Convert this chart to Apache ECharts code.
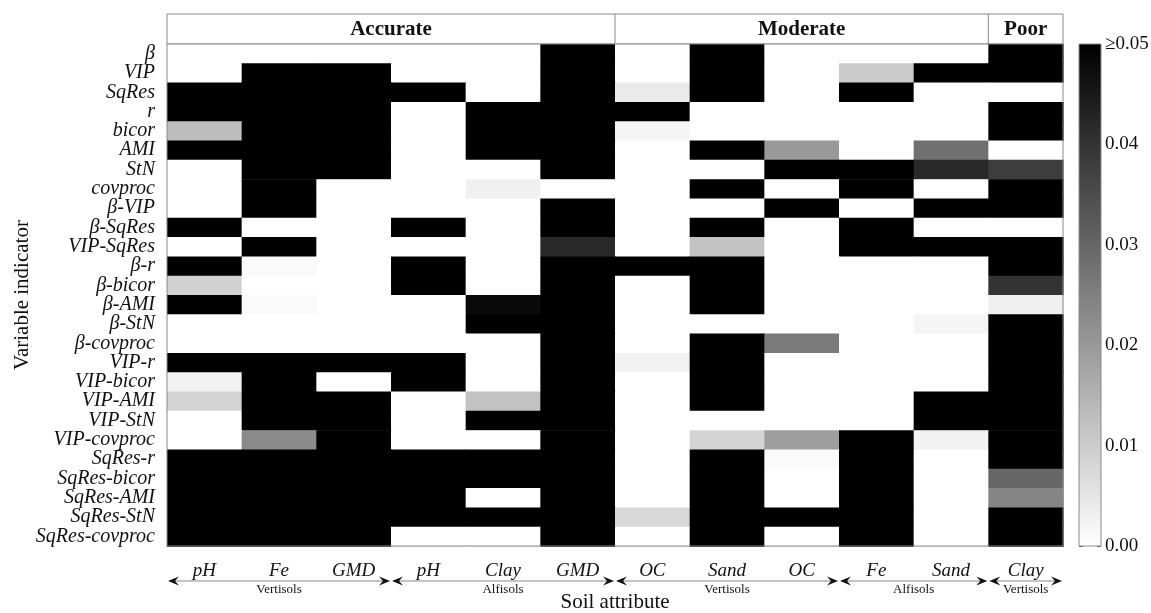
<!DOCTYPE html>
<html><head><meta charset="utf-8">
<script src="https://cdn.jsdelivr.net/npm/echarts@6/dist/echarts.min.js"></script>
<style>html,body{margin:0;padding:0;background:#fff}#c{width:1151px;height:613px}</style>
</head><body><div id="c"></div>
<script>
// ---- data ----
const soilAttributes = ['pH','Fe','GMD','pH','Clay','GMD','OC','Sand','OC','Fe','Sand','Clay'];
const soilOrders = ['Vertisols','Alfisols','Vertisols','Alfisols','Vertisols'];
const soilOrderSpans = [3,3,3,2,1];
const accuracyClasses = ['Accurate','Moderate','Poor'];
const accuracySpans = [6,5,1];
const indicators = ['β','VIP','SqRes','r','bicor','AMI','StN','covproc','β-VIP','β-SqRes','VIP-SqRes',
  'β-r','β-bicor','β-AMI','β-StN','β-covproc','VIP-r','VIP-bicor','VIP-AMI','VIP-StN','VIP-covproc',
  'SqRes-r','SqRes-bicor','SqRes-AMI','SqRes-StN','SqRes-covproc'];
const K = 0.05; // value shown as ≥0.05
const pValues = [
  [0, 0, 0, 0, 0, K, 0, K, 0, 0, 0, K],
  [0, K, K, 0, 0, K, 0, K, 0, 0.010, K, K],
  [K, K, K, K, 0, K, 0.004, K, 0, K, 0, 0],
  [K, K, K, 0, K, K, K, 0, 0, 0, 0, K],
  [0.013, K, K, 0, K, K, 0.002, 0, 0, 0, 0, K],
  [K, K, K, 0, K, K, 0, K, 0.020, 0, 0.028, 0],
  [0, K, K, 0, 0, K, 0, 0, K, K, 0.042, 0.038],
  [0, K, 0, 0, 0.003, 0, 0, K, 0, K, 0, K],
  [0, K, 0, 0, 0, K, 0, 0, K, 0, K, K],
  [K, 0, 0, K, 0, K, 0, K, 0, K, 0, 0],
  [0, K, 0, 0, 0, 0.042, 0, 0.012, 0, K, K, K],
  [K, 0.001, 0, K, 0, K, K, K, 0, 0, 0, K],
  [0.009, 0, 0, K, 0, K, 0, K, 0, 0, 0, 0.040],
  [K, 0.001, 0, 0, 0.048, K, 0, K, 0, 0, 0, 0.003],
  [0, 0, 0, 0, K, K, 0, 0, 0, 0, 0.002, K],
  [0, 0, 0, 0, 0, K, 0, K, 0.026, 0, 0, K],
  [K, K, K, K, 0, K, 0.0025, K, 0, 0, 0, K],
  [0.0025, K, 0, K, 0, K, 0, K, 0, 0, 0, K],
  [0.0085, K, K, 0, 0.012, K, 0, K, 0, 0, K, K],
  [0, K, K, 0, K, K, 0, 0, 0, 0, K, K],
  [0, 0.023, K, 0, 0, K, 0, 0.0085, 0.019, K, 0.0025, K],
  [K, K, K, K, K, K, 0, K, 0.001, K, 0, K],
  [K, K, K, K, K, K, 0, K, 0, K, 0, 0.030],
  [K, K, K, K, 0, K, 0, K, 0, K, 0, 0.024],
  [K, K, K, K, K, K, 0.0075, K, K, K, 0, K],
  [K, K, K, 0, 0, K, 0, K, 0, K, 0, K]
];
const colorbarMin = 0, colorbarMax = 0.05, colorbarStep = 0.01;

// ---- chart ----
const FONT = '"Liberation Serif","Times New Roman",serif';
const GRAY = '#8a8a8a';
const chart = echarts.init(document.getElementById('c'), null, {renderer: 'canvas'});
const heatData = [];
pValues.forEach((row, r) => row.forEach((v, c) => heatData.push([c, r, v])));

chart.setOption({
  animation: false,
  backgroundColor: '#fff',
  grid: [
    {left: 167, right: 88, top: 44, bottom: 67, show: true, borderColor: GRAY, borderWidth: 1, z: 10,
      outerBoundsMode: 'none', containLabel: false},
    {left: 1079, width: 22, top: 44, bottom: 67, show: true, borderColor: GRAY, borderWidth: 1, z: 10,
      outerBoundsMode: 'none', containLabel: false}
  ],
  visualMap: {type: 'continuous', show: false, min: colorbarMin, max: colorbarMax, seriesIndex: 0, dimension: 2,
    inRange: {color: ['#ffffff', '#000000']}},
  xAxis: [
    {type: 'category', gridIndex: 0, data: soilAttributes,
      name: 'Soil attribute', nameLocation: 'middle', nameGap: 46, nameMoveOverlap: false,
      nameTextStyle: {fontFamily: FONT, fontSize: 21, color: '#111'},
      axisLine: {lineStyle: {color: GRAY}},
      axisTick: {alignWithLabel: true, length: 8, lineStyle: {color: GRAY}},
      axisLabel: {fontFamily: FONT, fontStyle: 'italic', fontSize: 19, color: '#111', margin: 15, interval: 0},
      splitLine: {show: false}},
    {type: 'category', gridIndex: 1, data: [''], show: false}
  ],
  yAxis: [
    {type: 'category', gridIndex: 0, data: indicators, inverse: true,
      name: 'Variable indicator', nameLocation: 'middle', nameGap: 134, nameMoveOverlap: false,
      nameTextStyle: {fontFamily: FONT, fontSize: 21, color: '#111'},
      axisLine: {lineStyle: {color: GRAY}},
      axisTick: {alignWithLabel: true, length: 8, lineStyle: {color: GRAY}},
      axisLabel: {fontFamily: FONT, fontStyle: 'italic', fontSize: 20, color: '#111', margin: 12, interval: 0},
      splitLine: {show: false}},
    {type: 'value', gridIndex: 1, position: 'right', min: colorbarMin, max: colorbarMax, interval: colorbarStep,
      axisLine: {show: false},
      axisTick: {show: true, inside: true, length: 4, lineStyle: {color: '#555'}},
      axisLabel: {fontFamily: FONT, fontSize: 19, color: '#111', margin: 4,
        formatter: v => (v > colorbarMax - colorbarStep / 2 ? '≥' : '') + v.toFixed(2)},
      splitLine: {show: false}},
    {type: 'value', gridIndex: 1, position: 'left', min: colorbarMin, max: colorbarMax, interval: colorbarStep,
      axisLine: {show: false}, axisLabel: {show: false},
      axisTick: {show: true, inside: true, length: 4, lineStyle: {color: '#555'}},
      splitLine: {show: false}}
  ],
  series: [
    {type: 'custom', xAxisIndex: 0, yAxisIndex: 0, data: heatData, silent: true,
      encode: {x: 0, y: 1},
      renderItem: (params, api) => {
        const p = api.coord([api.value(0), api.value(1)]);
        const sz = api.size([1, 1]);
        return {type: 'rect',
          shape: {x: p[0] - sz[0] / 2, y: p[1] - sz[1] / 2, width: sz[0] + 0.7, height: sz[1] + 0.7},
          style: {fill: api.visual('color'), stroke: null}};
      }},
    {type: 'bar', xAxisIndex: 1, yAxisIndex: 1, data: [colorbarMax], barWidth: '100%', silent: true,
      itemStyle: {color: new echarts.graphic.LinearGradient(0, 0, 0, 1,
        [{offset: 0, color: '#000000'}, {offset: 1, color: '#ffffff'}])}}
  ]
});

// ---- decorations computed from the axis scale ----
const c0 = chart.convertToPixel({xAxisIndex: 0}, 0);
const c1 = chart.convertToPixel({xAxisIndex: 0}, 1);
const bw = c1 - c0;
const xb = i => c0 - bw / 2 + i * bw;
const r0 = chart.convertToPixel({yAxisIndex: 0}, 0);
const r1 = chart.convertToPixel({yAxisIndex: 0}, 1);
const topY = r0 - (r1 - r0) / 2;
const headH = 30;
const g = [];
g.push({type: 'rect', shape: {x: xb(0), y: topY - headH, width: xb(12) - xb(0), height: headH},
  style: {fill: 'none', stroke: GRAY, lineWidth: 1}, silent: true});
let s = 0;
accuracyClasses.forEach((name, k) => {
  const a = s, b = s + accuracySpans[k];
  if (k > 0) g.push({type: 'line', shape: {x1: xb(a), y1: topY - headH, x2: xb(a), y2: topY},
    style: {stroke: GRAY, lineWidth: 1}, silent: true});
  g.push({type: 'text', x: (xb(a) + xb(b)) / 2, y: topY - headH / 2 + 1,
    style: {text: name, fontFamily: FONT, fontWeight: 'bold', fontSize: 21, fill: '#111',
      align: 'center', verticalAlign: 'middle'}, silent: true});
  s = b;
});
const arrowY = 581;
s = 0;
soilOrders.forEach((name, k) => {
  const a = s, b = s + soilOrderSpans[k];
  const x0 = xb(a) + 1, x1 = xb(b) - 1;
  g.push({type: 'line', shape: {x1: x0 + 4, y1: arrowY, x2: x1 - 4, y2: arrowY},
    style: {stroke: GRAY, lineWidth: 1.2}, silent: true});
  g.push({type: 'polygon', shape: {points: [[x0, arrowY], [x0 + 11, arrowY - 4.5], [x0 + 7, arrowY], [x0 + 11, arrowY + 4.5]]},
    style: {fill: '#111'}, silent: true});
  g.push({type: 'polygon', shape: {points: [[x1, arrowY], [x1 - 11, arrowY - 4.5], [x1 - 7, arrowY], [x1 - 11, arrowY + 4.5]]},
    style: {fill: '#111'}, silent: true});
  g.push({type: 'text', x: (xb(a) + xb(b)) / 2, y: arrowY + 2,
    style: {text: name, fontFamily: FONT, fontSize: 13, fill: '#111', align: 'center', verticalAlign: 'top'}, silent: true});
  s = b;
});
chart.setOption({graphic: g});
</script></body></html>
